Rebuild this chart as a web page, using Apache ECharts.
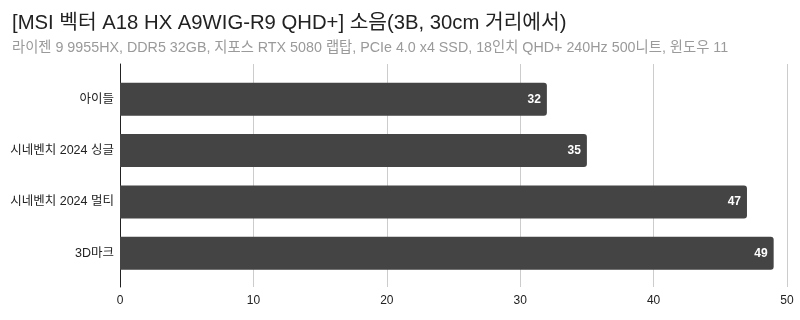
<!DOCTYPE html>
<html><head><meta charset="utf-8">
<script src="https://cdn.jsdelivr.net/npm/echarts@6/dist/echarts.min.js"></script>
<style>html,body{margin:0;padding:0;background:#fff}#c{width:800px;height:320px}</style>
</head><body><div id="c"></div>
<script>
const titleText = '[MSI 벡터 A18 HX A9WIG-R9 QHD+] 소음(3B, 30cm 거리에서)';
const subtitleText = '라이젠 9 9955HX, DDR5 32GB, 지포스 RTX 5080 랩탑, PCIe 4.0 x4 SSD, 18인치 QHD+ 240Hz 500니트, 윈도우 11';
const categories = ['아이들', '시네벤치 2024 싱글', '시네벤치 2024 멀티', '3D마크'];
const values = [32, 35, 47, 49];
const xTicks = [0, 10, 20, 30, 40, 50];

const FONT = "'Liberation Sans', Arial, 'Noto Sans CJK KR', sans-serif";
const chart = echarts.init(document.getElementById('c'), null, {renderer: 'canvas'});
chart.setOption({
  animation: false,
  textStyle: {fontFamily: FONT},
  title: {
    text: titleText,
    subtext: subtitleText,
    left: 7, top: 8,
    itemGap: 8,
    textStyle: {fontSize: 20.3, fontWeight: 'normal', color: '#222', fontFamily: FONT},
    subtextStyle: {fontSize: 14.3, color: '#9a9a9a', fontFamily: FONT}
  },
  grid: [
    {left: 120, right: 13, top: 64, bottom: 33},
    {left: 120, right: 13, top: 73.5, bottom: 41}
  ],
  xAxis: [
    {gridIndex: 0, type: 'value', min: xTicks[0], max: xTicks[xTicks.length - 1], interval: 10,
      axisLine: {show: false}, axisTick: {show: false},
      axisLabel: {color: '#222', fontSize: 12, margin: 8, fontFamily: FONT},
      splitLine: {show: true, lineStyle: {color: '#cccccc', width: 1}}},
    {gridIndex: 1, type: 'value', min: xTicks[0], max: xTicks[xTicks.length - 1],
      show: false, splitLine: {show: false}}
  ],
  yAxis: [
    {gridIndex: 0, type: 'value', min: 0, max: 1, axisLine: {show: true, lineStyle: {color: '#222', width: 1}},
      axisTick: {show: false}, axisLabel: {show: false}, splitLine: {show: false}},
    {gridIndex: 1, type: 'category', data: categories, inverse: true,
      axisLine: {show: false}, axisTick: {show: false}, splitLine: {show: false},
      axisLabel: {color: '#222', fontSize: 12.5, margin: 6, fontFamily: FONT}}
  ],
  series: [{
    type: 'bar', xAxisIndex: 1, yAxisIndex: 1,
    data: values, barWidth: 33,
    itemStyle: {color: '#444444', borderRadius: [0, 3, 3, 0]},
    label: {show: true, position: 'insideRight', offset: [-1, 0], color: '#ffffff', fontWeight: 'bold', fontSize: 12, fontFamily: FONT}
  }]
});
</script></body></html>
